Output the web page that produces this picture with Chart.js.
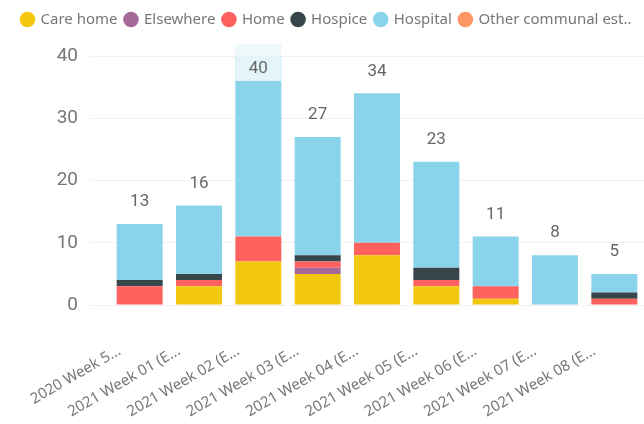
<!DOCTYPE html>
<html>
<head>
<meta charset="utf-8">
<script src="https://cdn.jsdelivr.net/npm/chart.js@4/dist/chart.umd.min.js"></script>
<style>
  html, body { margin: 0; padding: 0; background: #fff; }
  #wrap { width: 644px; height: 424px; position: relative; }
</style>
</head>
<body>
<div id="wrap"><canvas id="deaths"></canvas></div>
<script>
const weeks = [
  '2020 Week 5...', '2021 Week 01 (E...', '2021 Week 02 (E...', '2021 Week 03 (E...',
  '2021 Week 04 (E...', '2021 Week 05 (E...', '2021 Week 06 (E...', '2021 Week 07 (E...',
  '2021 Week 08 (E...'
];
const careHome  = [0, 3, 7, 5, 8, 3, 1, 0, 0];
const elsewhere = [0, 0, 0, 1, 0, 0, 0, 0, 0];
const home      = [3, 1, 4, 1, 2, 1, 2, 0, 1];
const hospice   = [1, 1, 0, 1, 0, 2, 0, 0, 1];
const hospital  = [9, 11, 29, 19, 24, 17, 8, 8, 3];
const otherComm = [0, 0, 0, 0, 0, 0, 0, 0, 0];
const yTicks = [0, 10, 20, 30, 40];

const grey = '#777';

// totals above each stack (inside with a pale box when it would hit the top)
const totalsPlugin = {
  id: 'totals',
  afterDatasetsDraw(chart) {
    const ctx = chart.ctx;
    const top = chart.chartArea.top;
    const last = chart.getDatasetMeta(chart.data.datasets.length - 1);
    ctx.save();
    ctx.font = '17px Roboto';
    ctx.textAlign = 'center';
    ctx.textBaseline = 'middle';
    weeks.forEach((w, i) => {
      let total = 0;
      chart.data.datasets.forEach(ds => { total += ds.data[i]; });
      const bar = last.data[i];
      const yTop = chart.scales.y.getPixelForValue(total);
      let ty = yTop - 22;
      if (ty < top) {
        ty = yTop + 13;
        ctx.fillStyle = 'rgba(236,247,251,0.92)';
        ctx.fillRect(bar.x - bar.width / 2, yTop - 12, bar.width, 37);
      }
      ctx.fillStyle = '#666';
      ctx.fillText(String(total), bar.x, ty);
    });
    ctx.restore();
  }
};

// legend: a bit taller and nudged right like the original visual
const legendShift = {
  id: 'legendShift',
  beforeInit(chart) {
    const lg = chart.legend;
    if (!lg) return;
    const fit = lg.fit;
    lg.fit = function () {
      fit.call(this);
      this.height += 23;
    };
  },
  afterLayout(chart) {
    chart.legend.left += 14;
    chart.legend.top += 4;
  }
};

new Chart(document.getElementById('deaths'), {
  type: 'bar',
  data: {
    labels: weeks,
    datasets: [
      { label: 'Care home', data: careHome, backgroundColor: '#F2C80F' },
      { label: 'Elsewhere', data: elsewhere, backgroundColor: '#A66999' },
      { label: 'Home', data: home, backgroundColor: '#FD625E' },
      { label: 'Hospice', data: hospice, backgroundColor: '#374649' },
      { label: 'Hospital', data: hospital, backgroundColor: '#8AD4EB' },
      { label: 'Other communal est..', data: otherComm, backgroundColor: '#FE9666' },
    ],
  },
  options: {
    responsive: true,
    maintainAspectRatio: false,
    animation: false,
    barPercentage: 0.775,
    categoryPercentage: 1,
    layout: { padding: 0 },
    plugins: {
      tooltip: { enabled: false },
      legend: {
        align: 'start',
        labels: {
          usePointStyle: true,
          pointStyle: 'circle',
          boxWidth: 11,
          boxHeight: 11,
          padding: 8,
          color: grey,
          font: { family: 'Noto Sans', size: 15 },
        },
      },
    },
    scales: {
      x: {
        stacked: true,
        grid: { display: false },
        border: { display: false },
        afterFit: s => {
          s.height = 119;
          s.paddingLeft = 0;
          s.paddingRight = 0;
        },
        ticks: {
          color: grey,
          font: { family: 'Noto Sans', size: 15 },
          minRotation: 30,
          maxRotation: 30,
          autoSkip: false,
          padding: 29,
          labelOffset: -20,
        },
      },
      y: {
        stacked: true,
        min: 0,
        max: 40,
        border: { display: false },
        afterFit: s => { s.width = 110; },
        afterBuildTicks: s => { s.ticks = yTicks.map(v => ({ value: v })); },
        grid: { color: '#f0f0f0', tickLength: 20 },
        ticks: {
          color: grey,
          font: { family: 'Roboto', size: 19 },
          padding: 12,
        },
      },
    },
  },
  plugins: [totalsPlugin, legendShift],
});
</script>
</body>
</html>
